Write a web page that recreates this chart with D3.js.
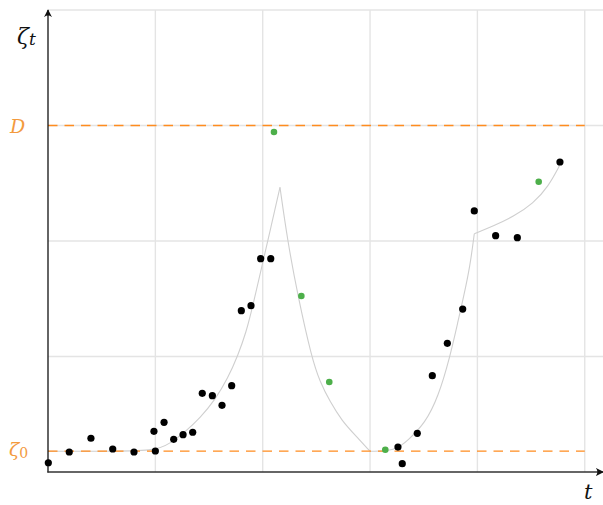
<!DOCTYPE html>
<html>
<head>
<meta charset="utf-8">
<script src="https://cdn.jsdelivr.net/npm/d3@7"></script>
<style>
  html, body { margin: 0; padding: 0; background: #fff; }
  svg { display: block; }
  text { font-family: "DejaVu Serif", "Liberation Serif", serif; font-style: italic; }
</style>
</head>
<body>
<svg id="chart" width="603" height="505"></svg>
<script>
// ---- data ----
const levelZeta0 = 0.18;
const levelD = 3;

const blackT = [0.003, 0.198, 0.40, 0.603, 0.801, 1.0, 0.987, 1.081, 1.171, 1.258, 1.348, 1.437, 1.531, 1.621, 1.711, 1.801, 1.891, 1.981, 2.075,
                3.260, 3.300, 3.440, 3.580, 3.720, 3.863, 3.971, 4.170, 4.372, 4.769];
const blackV = [0.08, 0.173, 0.292, 0.199, 0.173, 0.182, 0.352, 0.430, 0.283, 0.323, 0.344, 0.681, 0.661, 0.577, 0.747, 1.397, 1.440, 1.847, 1.847,
                0.216, 0.072, 0.335, 0.834, 1.114, 1.411, 2.260, 2.046, 2.029, 2.684];

const greenT = [2.105, 2.360, 2.620, 3.142, 4.571];
const greenV = [2.944, 1.524, 0.779, 0.193, 2.513];

// curve, in four smooth pieces
const curveRise1T = [0, 0.5, 1.0, 1.136, 1.276, 1.416, 1.555, 1.677, 1.770, 1.844, 1.910, 1.994, 2.077, 2.161];
const curveRise1V = [0.18, 0.18, 0.18, 0.247, 0.346, 0.468, 0.623, 0.814, 1.013, 1.203, 1.446, 1.788, 2.121, 2.465];
const curveFallT  = [2.161, 2.233, 2.326, 2.456, 2.534, 2.627, 2.739, 2.860, 3.0];
const curveFallV  = [2.465, 1.994, 1.532, 0.990, 0.779, 0.609, 0.442, 0.320, 0.18];
const curveRise2T = [3.0, 3.232, 3.356, 3.512, 3.636, 3.745, 3.822, 3.869, 3.931, 3.971];
const curveRise2V = [0.18, 0.18, 0.277, 0.422, 0.652, 0.998, 1.316, 1.506, 1.778, 2.063];
const curveTailT  = [3.971, 4.148, 4.334, 4.521, 4.660, 4.769];
const curveTailV  = [2.063, 2.130, 2.210, 2.326, 2.470, 2.66];

const xTicks = [1, 2, 3, 4, 5];
const yTicks = [1, 2, 3, 4];

// ---- drawing ----
const svg = d3.select("#chart");
const x = d3.scaleLinear().domain([0, 5.17]).range([48, 603]);
const y = d3.scaleLinear().domain([0, 4]).range([472, 10]);

const gridColor = "#e4e4e4";
const orange = "#ff8c1f";
const orangeLabel = "#f39a3e";

// grid
svg.append("g").selectAll("line").data(xTicks).join("line")
  .attr("x1", d => x(d)).attr("x2", d => x(d))
  .attr("y1", y(0)).attr("y2", y(4))
  .attr("stroke", gridColor).attr("stroke-width", 1.4);
svg.append("g").selectAll("line").data(yTicks).join("line")
  .attr("x1", x(0)).attr("x2", x(5.17))
  .attr("y1", d => y(d)).attr("y2", d => y(d))
  .attr("stroke", gridColor).attr("stroke-width", 1.4);

// curve
const line = d3.line().x(d => x(d[0])).y(d => y(d[1])).curve(d3.curveBasis);
const pieces = [[curveRise1T, curveRise1V], [curveFallT, curveFallV], [curveRise2T, curveRise2V], [curveTailT, curveTailV]];
pieces.forEach(([ts, vs]) => {
  svg.append("path")
    .attr("d", line(ts.map((t, i) => [t, vs[i]])))
    .attr("fill", "none").attr("stroke", "#cfcfcf").attr("stroke-width", 1.1);
});

// dashed levels
[levelD, levelZeta0].forEach(v => {
  svg.append("line")
    .attr("x1", x(0)).attr("x2", x(5))
    .attr("y1", y(v)).attr("y2", y(v))
    .attr("stroke", orange).attr("stroke-width", 1.3)
    .attr("stroke-dasharray", "9.5,7");
});

// axes with arrows
const defs = svg.append("defs");
defs.append("marker").attr("id", "arrow")
  .attr("viewBox", "0 0 10 10").attr("refX", 9).attr("refY", 5)
  .attr("markerWidth", 8).attr("markerHeight", 8).attr("markerUnits", "userSpaceOnUse")
  .attr("orient", "auto")
  .append("path").attr("d", "M0,0 Q4,5 0,10 L10,5 Z").attr("fill", "#111");

svg.append("line")
  .attr("x1", x(0)).attr("x2", x(0))
  .attr("y1", y(0) + 0.6).attr("y2", y(4))
  .attr("stroke", "#111").attr("stroke-width", 1.3)
  .attr("marker-end", "url(#arrow)");
svg.append("line")
  .attr("x1", x(0) - 0.6).attr("x2", x(5.17))
  .attr("y1", y(0)).attr("y2", y(0))
  .attr("stroke", "#333").attr("stroke-width", 1.3)
  .attr("marker-end", "url(#arrow)");

// points
svg.append("g").selectAll("circle").data(blackT.map((t, i) => [t, blackV[i]])).join("circle")
  .attr("cx", d => x(d[0])).attr("cy", d => y(d[1])).attr("r", 3.6).attr("fill", "#000");
svg.append("g").selectAll("circle").data(greenT.map((t, i) => [t, greenV[i]])).join("circle")
  .attr("cx", d => x(d[0])).attr("cy", d => y(d[1])).attr("r", 3.3).attr("fill", "#4daf4a");

// labels
const zt = svg.append("text").attr("x", 17).attr("y", 44).attr("font-size", 22).attr("fill", "#111");
zt.append("tspan").text("ζ");
zt.append("tspan").attr("font-size", 17).attr("dy", 1).text("t");

svg.append("text").attr("x", 10).attr("y", y(levelD) + 7).attr("font-size", 19).attr("fill", orangeLabel).text("D");

const z0 = svg.append("text").attr("x", 9).attr("y", y(levelZeta0) + 5).attr("font-size", 19).attr("fill", orangeLabel);
z0.append("tspan").text("ζ");
z0.append("tspan").attr("font-size", 14).attr("font-style", "normal").attr("dy", 2).text("0");

svg.append("text").attr("x", 584).attr("y", 499).attr("font-size", 21).attr("fill", "#111").text("t");
</script>
</body>
</html>
